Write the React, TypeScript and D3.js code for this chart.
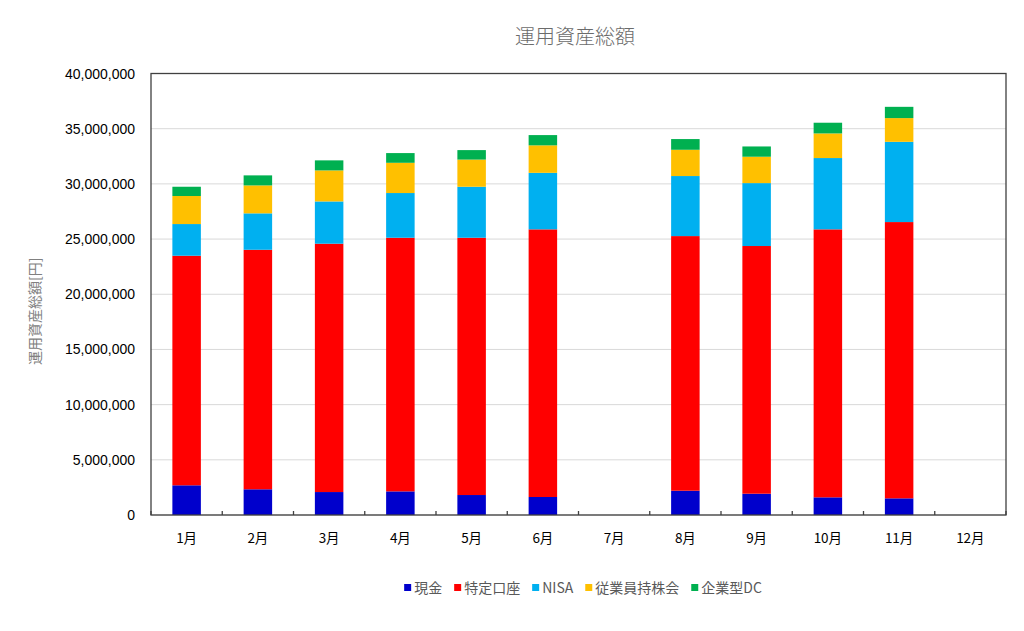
import React, { useEffect, useRef } from "react";
import * as d3 from "d3";

const months = ["1月", "2月", "3月", "4月", "5月", "6月", "7月", "8月", "9月", "10月", "11月", "12月"];
const seriesNames = ["現金", "特定口座", "NISA", "従業員持株会", "企業型DC"];
const seriesColors = ["#0000CC", "#FF0000", "#00B0F0", "#FFC000", "#00B050"];
const cash = [2690000, 2330000, 2080000, 2140000, 1810000, 1630000, 0, 2200000, 1930000, 1600000, 1510000, 0];
const tokutei = [20800000, 21700000, 22500000, 22980000, 23310000, 24250000, 0, 23070000, 22440000, 24280000, 25030000, 0];
const nisa = [2870000, 3300000, 3830000, 4050000, 4620000, 5120000, 0, 5440000, 5700000, 6460000, 7270000, 0];
const stock = [2540000, 2530000, 2810000, 2740000, 2460000, 2490000, 0, 2380000, 2390000, 2230000, 2150000, 0];
const dc = [840000, 910000, 910000, 880000, 860000, 930000, 0, 970000, 930000, 970000, 1020000, 0];
const yTicks = [0, 5000000, 10000000, 15000000, 20000000, 25000000, 30000000, 35000000, 40000000];

export default function App() {
  const ref = useRef<SVGSVGElement>(null);
  useEffect(() => {
    const svg = d3.select(ref.current);
    svg.selectAll("*").remove();
    const W = 1024, H = 631;
    const left = 151, right = 1006, top = 73.5, bottom = 515;
    const x = d3.scaleBand().domain(months).range([left, right]).paddingInner(0.6).paddingOuter(0.3);
    const xb = d3.scaleBand().domain(months).range([left, right]);
    const y = d3.scaleLinear().domain([0, 40000000]).range([bottom, top]);
    svg.append("rect").attr("width", W).attr("height", H).attr("fill", "#fff");

    svg.append("text").attr("x", 575).attr("y", 44).attr("text-anchor", "middle")
      .attr("font-family", "'Noto Sans CJK JP'").attr("font-size", 20).attr("font-weight", 300)
      .attr("fill", "#6b6b6b").text("運用資産総額");

    // gridlines
    svg.append("g").selectAll("line").data(yTicks).join("line")
      .attr("x1", left).attr("x2", right).attr("y1", d => y(d)).attr("y2", d => y(d))
      .attr("stroke", "#D9D9D9").attr("stroke-width", 1);

    const data = months.map((m, i) => ({ m, vals: [cash[i], tokutei[i], nisa[i], stock[i], dc[i]] }));
    const stacked = d3.stack<any>().keys([0, 1, 2, 3, 4] as any).value((d: any, k: any) => d.vals[k])(data as any);
    const g = svg.append("g");
    stacked.forEach((layer, si) => {
      g.append("g").selectAll("rect").data(layer).join("rect")
        .attr("x", (d: any) => x(d.data.m)!)
        .attr("width", x.bandwidth())
        .attr("y", (d: any) => y(d[1]))
        .attr("height", (d: any) => Math.max(0, y(d[0]) - y(d[1])))
        .attr("fill", seriesColors[si]);
    });

    // frame
    svg.append("rect").attr("x", left).attr("y", top).attr("width", right - left).attr("height", bottom - top)
      .attr("fill", "none").attr("stroke", "#404040").attr("stroke-width", 1.3);

    // x ticks
    const bounds = months.map(m => xb(m)!).concat([right]);
    svg.append("g").selectAll("line").data(bounds).join("line")
      .attr("x1", d => d).attr("x2", d => d).attr("y1", bottom - 4).attr("y2", bottom)
      .attr("stroke", "#404040").attr("stroke-width", 1.3);

    // y labels
    const fmt = d3.format(",");
    svg.append("g").selectAll("text").data(yTicks).join("text")
      .attr("x", 135).attr("y", d => y(d) + 5).attr("text-anchor", "end")
      .attr("font-family", "'Liberation Sans', Arial").attr("font-size", 14).attr("fill", "#000")
      .text(d => fmt(d));

    // x labels
    svg.append("g").selectAll("text").data(months).join("text")
      .attr("x", d => xb(d)! + xb.bandwidth() / 2).attr("y", 543).attr("text-anchor", "middle")
      .attr("font-family", "'Noto Sans CJK JP'").attr("font-size", 13.5).attr("fill", "#000")
      .text(d => d);

    // y axis title
    svg.append("text").attr("transform", `translate(40,${(top + bottom) / 2 + 17}) rotate(-90)`)
      .attr("text-anchor", "middle").attr("font-family", "'Noto Sans CJK JP'").attr("font-size", 14)
      .attr("fill", "#808080").text("運用資産総額[円]");

    // legend
    const lg = svg.append("g");
    const items: { w: number; node: any }[] = [];
    seriesNames.forEach((n, i) => {
      const it = lg.append("g");
      it.append("rect").attr("x", 0).attr("y", -9).attr("width", 7).attr("height", 7).attr("fill", seriesColors[i]);
      const t = it.append("text").attr("x", 10).attr("y", 0)
        .attr("font-family", "'Noto Sans CJK JP'").attr("font-size", 14).attr("fill", "#595959").text(n);
      const tw = (t.node() as SVGTextElement).getComputedTextLength();
      items.push({ w: 10 + tw, node: it });
    });
    const gap = 12;
    const total = d3.sum(items, d => d.w) + gap * (items.length - 1);
    let cx = 583 - total / 2;
    items.forEach(it => {
      it.node.attr("transform", `translate(${cx},593)`);
      cx += it.w + gap;
    });
  }, []);
  return (
    <svg ref={ref} width={1024} height={631} style={{ position: "absolute", left: 0, top: 0 }} />
  );
}
